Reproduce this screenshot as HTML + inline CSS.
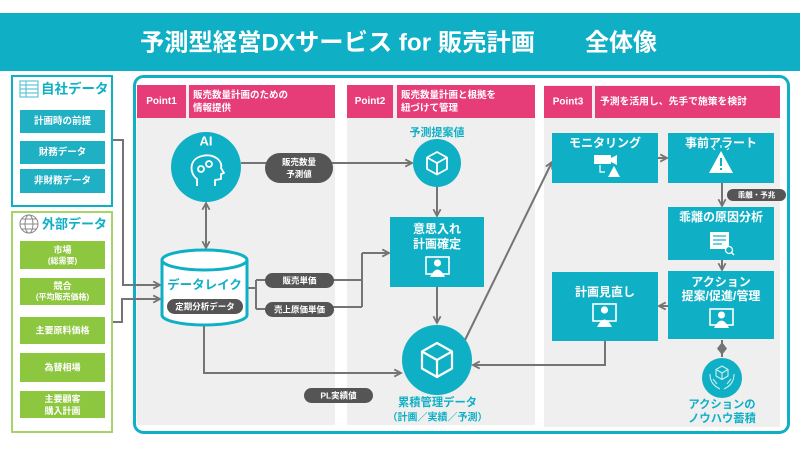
<!DOCTYPE html>
<html><head><meta charset="utf-8"><style>
html,body{margin:0;padding:0;background:#fff;}
svg{display:block;}
text{font-family:"Liberation Sans","Noto Sans CJK JP",sans-serif;font-weight:bold;}
</style></head><body>
<svg width="800" height="450" viewBox="0 0 800 450" xmlns="http://www.w3.org/2000/svg">
<defs>
<marker id="ah" viewBox="0 0 10 10" refX="8.5" refY="5" markerWidth="4.5" markerHeight="4.5" orient="auto-start-reverse">
<path d="M1,1 L8.5,5 L1,9" fill="none" stroke="#747474" stroke-width="2"/>
</marker>
</defs>
<rect x="0" y="0" width="800" height="450" fill="#fff"/>
<!-- Title -->
<rect x="0" y="13" width="800" height="58" fill="#0fb0c5"/>
<text x="140" y="43" font-size="24" fill="#fff" dominant-baseline="central" textLength="395" lengthAdjust="spacingAndGlyphs">予測型経営DXサービス for 販売計画</text>
<text x="585" y="43" font-size="24" fill="#fff" dominant-baseline="central">全体像</text>

<!-- Left panel: 自社データ -->
<rect x="12" y="76" width="100" height="130" fill="#fff" stroke="#0fb0c5" stroke-width="2"/>
<g fill="none" stroke="#5fc6d6" stroke-width="1.2">
<rect x="20" y="81" width="18" height="16"/>
<line x1="20" y1="85" x2="38" y2="85"/><line x1="20" y1="89" x2="38" y2="89"/><line x1="20" y1="93" x2="38" y2="93"/>
<line x1="26" y1="81" x2="26" y2="97"/>
</g>
<text x="41" y="89" font-size="13.5" fill="#0fb0c5" dominant-baseline="central">自社データ</text>
<rect x="20" y="110" width="85" height="23" fill="#1fb0c4"/>
<rect x="20" y="141" width="85" height="23" fill="#1fb0c4"/>
<rect x="20" y="169" width="85" height="24" fill="#1fb0c4"/>
<g font-size="9.5" fill="#fff" text-anchor="middle" dominant-baseline="central">
<text x="62.5" y="121.5">計画時の前提</text>
<text x="62.5" y="152.5">財務データ</text>
<text x="62.5" y="181">非財務データ</text>
</g>

<!-- Left panel: 外部データ -->
<rect x="12" y="212" width="100" height="220" fill="#fff" stroke="#a6d46a" stroke-width="2"/>
<g fill="none" stroke="#8a8a8a" stroke-width="1">
<circle cx="29" cy="224" r="9"/>
<ellipse cx="29" cy="224" rx="4" ry="9"/>
<line x1="20" y1="224" x2="38" y2="224"/>
<line x1="22" y1="219" x2="36" y2="219"/><line x1="22" y1="229" x2="36" y2="229"/>
</g>
<text x="42" y="224" font-size="13" fill="#0fb0c5" dominant-baseline="central">外部データ</text>
<g fill="#8dc63f">
<rect x="20" y="241" width="85" height="28"/>
<rect x="20" y="278" width="85" height="27"/>
<rect x="20" y="317" width="85" height="27"/>
<rect x="20" y="353" width="85" height="29"/>
<rect x="20" y="391" width="85" height="27"/>
</g>
<g font-size="9" fill="#fff" text-anchor="middle" dominant-baseline="central">
<text x="62.5" y="250">市場</text>
<text x="62.5" y="261" font-size="8">(総需要)</text>
<text x="62.5" y="286">競合</text>
<text x="62.5" y="297" font-size="8">(平均販売価格)</text>
<text x="62.5" y="330.5">主要原料価格</text>
<text x="62.5" y="367.5">為替相場</text>
<text x="62.5" y="399">主要顧客</text>
<text x="62.5" y="411">購入計画</text>
</g>

<!-- Main panel -->
<rect x="134.5" y="76.5" width="654" height="356" rx="9" ry="9" fill="#fff" stroke="#0fb0c5" stroke-width="3"/>
<rect x="137" y="85" width="198" height="340" fill="#efefef"/>
<rect x="347" y="85" width="188" height="340" fill="#efefef"/>
<rect x="544" y="85" width="236" height="342" fill="#efefef"/>

<!-- headers -->
<g fill="#e63d78">
<rect x="137" y="85" width="49" height="33"/>
<rect x="189" y="85" width="146" height="33"/>
<rect x="347" y="85" width="46" height="33"/>
<rect x="397" y="85" width="138" height="33"/>
<rect x="544" y="86" width="48" height="32"/>
<rect x="595" y="86" width="185" height="32"/>
</g>
<g fill="#fff" dominant-baseline="central">
<text x="161.5" y="101.5" font-size="10" text-anchor="middle">Point1</text>
<text x="370" y="101.5" font-size="10" text-anchor="middle">Point2</text>
<text x="568" y="102" font-size="10" text-anchor="middle">Point3</text>
<text x="193" y="95.5" font-size="9.5">販売数量計画のための</text>
<text x="193" y="108.5" font-size="9.5">情報提供</text>
<text x="401" y="95.5" font-size="9.5">販売数量計画と根拠を</text>
<text x="401" y="108.5" font-size="9.5">紐づけて管理</text>
<text x="600" y="102" font-size="9.8">予測を活用し、先手で施策を検討</text>
</g>

<!-- connectors -->
<g fill="none" stroke="#747474" stroke-width="2">
<path d="M113,140 H123 V285 H160" marker-end="url(#ah)"/>
<path d="M113,322 H122 V299 H160" marker-end="url(#ah)"/>
<path d="M206,203 V248" marker-start="url(#ah)" marker-end="url(#ah)"/>
<path d="M241,163 H412" marker-end="url(#ah)"/>
<path d="M247,288 H256 M256,280 V309 M256,280 H266 M256,309 H266"/>
<path d="M333,280 H362 M333,307 H362 M362,253 V307"/>
<path d="M362,253 H389" marker-end="url(#ah)"/>
<path d="M204,325 V373 H401" marker-end="url(#ah)"/>
<path d="M437,187 V216" marker-end="url(#ah)"/>
<path d="M437,287 V323" marker-end="url(#ah)"/>
<path d="M465,340 L552,162" marker-end="url(#ah)"/>
<path d="M605,341 V365 H473" marker-end="url(#ah)"/>
<path d="M658,158 H667" marker-end="url(#ah)"/>
<path d="M722,183 V206" marker-end="url(#ah)"/>
<path d="M722,260 V270" marker-end="url(#ah)"/>
<path d="M668,306 H659" marker-end="url(#ah)"/>
<path d="M722,340 V357"/>
</g>
<path d="M722,342 L727,348.5 L722,355 L717,348.5 Z" fill="#747474"/>

<!-- AI circle -->
<circle cx="206" cy="167" r="35" fill="#0fb0c5"/>
<text x="206" y="141" font-size="13" fill="#fff" text-anchor="middle" dominant-baseline="central">AI</text>
<g fill="none" stroke="#fff" stroke-width="1.8" stroke-linejoin="round">
<path d="M197,186 L197,179 C189,173 189,159 202,156 C214,153 223,161 221,168 L224,173 L221,174 L221,179 L215,180 L215,186"/>
<circle cx="201" cy="169" r="3"/>
<circle cx="209" cy="164" r="3"/>
</g>

<!-- pills -->
<g fill="#555">
<rect x="265" y="153" width="68" height="30" rx="15"/>
<rect x="265" y="273" width="69" height="15" rx="7.5"/>
<rect x="265" y="302" width="69" height="15" rx="7.5"/>
<rect x="304" y="388" width="69" height="15" rx="7.5"/>
<rect x="727" y="189" width="59" height="12" rx="6"/>
</g>
<g fill="#fff" text-anchor="middle" dominant-baseline="central">
<text x="299" y="162" font-size="8.5">販売数量</text>
<text x="299" y="174" font-size="8.5">予測値</text>
<text x="299.5" y="280.5" font-size="8.5">販売単価</text>
<text x="299.5" y="309.5" font-size="8.5">売上原価単価</text>
<text x="338.5" y="395.5" font-size="8.5">PL実績値</text>
<text x="756.5" y="195" font-size="7.5">乖離・予兆</text>
</g>

<!-- data lake -->
<path d="M162,260 V315 A42.5,10 0 0 0 247,315 V260" fill="#fff" stroke="#0fb0c5" stroke-width="3"/>
<ellipse cx="204.5" cy="260" rx="42.5" ry="10" fill="#fff" stroke="#0fb0c5" stroke-width="3"/>
<text x="204.5" y="285" font-size="12.5" fill="#0fb0c5" text-anchor="middle" dominant-baseline="central">データレイク</text>
<rect x="167" y="299" width="76" height="15" rx="7.5" fill="#555"/>
<text x="205" y="306.5" font-size="8.5" fill="#fff" text-anchor="middle" dominant-baseline="central">定期分析データ</text>

<!-- Col2 -->
<text x="437" y="133" font-size="11" fill="#0fb0c5" text-anchor="middle" dominant-baseline="central">予測提案値</text>
<circle cx="437" cy="163" r="24" fill="#0fb0c5"/>
<g fill="none" stroke="#fff" stroke-width="1.8" stroke-linejoin="round">
<path d="M437,152 L447,157.5 L447,169 L437,174.5 L427,169 L427,157.5 Z M427,157.5 L437,163 L447,157.5 M437,163 V174.5"/>
</g>
<rect x="390" y="217" width="94" height="70" fill="#0fb0c5"/>
<g fill="#fff" text-anchor="middle" dominant-baseline="central" font-size="12">
<text x="437" y="229">意思入れ</text>
<text x="437" y="244">計画確定</text>
</g>
<g>
<rect x="426" y="257" width="23" height="17" fill="none" stroke="#fff" stroke-width="1.6"/>
<circle cx="437.5" cy="263" r="3.6" fill="#fff"/>
<path d="M430,277 Q437.5,262 445,277 Z" fill="#fff"/>
</g>
<circle cx="437" cy="360" r="35" fill="#0fb0c5"/>
<g fill="none" stroke="#fff" stroke-width="2.2" stroke-linejoin="round">
<path d="M437,343 L452,351.5 L452,368.5 L437,377 L422,368.5 L422,351.5 Z M422,351.5 L437,360 L452,351.5 M437,360 V377"/>
</g>
<g fill="#0fb0c5" text-anchor="middle" dominant-baseline="central">
<text x="437.5" y="403" font-size="11.3">累積管理データ</text>
<text x="437.5" y="418" font-size="10">（計画／実績／予測）</text>
</g>

<!-- Col3 boxes -->
<g fill="#0fb0c5">
<rect x="552" y="133" width="106" height="50"/>
<rect x="668" y="133" width="106" height="50"/>
<rect x="668" y="207" width="106" height="53"/>
<rect x="668" y="271" width="106" height="68"/>
<rect x="552" y="272" width="106" height="69"/>
</g>
<g fill="#fff" text-anchor="middle" dominant-baseline="central" font-size="12">
<text x="605" y="143">モニタリング</text>
<text x="721" y="143">事前アラート</text>
<text x="721" y="217">乖離の原因分析</text>
<text x="721" y="282">アクション</text>
<text x="721" y="296">提案/促進/管理</text>
<text x="605" y="292">計画見直し</text>
</g>
<!-- monitoring icon -->
<g fill="#fff">
<rect x="594" y="155" width="17" height="9"/>
<path d="M611,158 L617,155 L617,165 L611,162 Z"/>
<path d="M614,166 L620,177 L608,177 Z"/>
</g>
<path d="M600,165 V172 H605" fill="none" stroke="#fff" stroke-width="1.2"/>
<!-- alert icon -->
<path d="M721,151 L733,173 L709,173 Z" fill="#fff"/>
<rect x="720" y="158" width="2" height="8" fill="#0fb0c5"/>
<rect x="720" y="168" width="2" height="2" fill="#0fb0c5"/>
<g stroke="#fff" stroke-width="1">
<line x1="721" y1="145" x2="721" y2="148"/>
<line x1="713" y1="148" x2="715" y2="150"/>
<line x1="729" y1="148" x2="727" y2="150"/>
</g>
<!-- doc icon -->
<rect x="710" y="232" width="19" height="17" fill="#fff"/>
<g stroke="#0fb0c5" stroke-width="1.2">
<line x1="713" y1="236" x2="726" y2="236"/><line x1="713" y1="240" x2="726" y2="240"/><line x1="713" y1="244" x2="722" y2="244"/>
</g>
<circle cx="729" cy="250" r="3.5" fill="#0fb0c5" stroke="#fff" stroke-width="1.3"/>
<line x1="731.5" y1="252.5" x2="734" y2="255" stroke="#fff" stroke-width="1.5"/>
<!-- person icons -->
<g>
<rect x="710" y="309" width="23" height="16" fill="none" stroke="#fff" stroke-width="1.6"/>
<circle cx="721.5" cy="315" r="3.5" fill="#fff"/>
<path d="M714,328 Q721.5,313 729,328 Z" fill="#fff"/>
<rect x="593" y="304" width="23" height="17" fill="none" stroke="#fff" stroke-width="1.6"/>
<circle cx="604.5" cy="310" r="3.6" fill="#fff"/>
<path d="M597,327 Q604.5,312 612,327 Z" fill="#fff"/>
</g>
<!-- knowhow -->
<circle cx="722" cy="378" r="20" fill="#0fb0c5"/>
<g fill="none" stroke="#cdeef3" stroke-width="1.1" stroke-linejoin="round">
<path d="M722,366 L728,369.5 L728,376 L722,379.5 L716,376 L716,369.5 Z M716,369.5 L722,373 L728,369.5 M722,373 V379.5"/>
<path d="M710,374 C710,382 714,386 720,389 M734,374 C734,382 730,386 724,389"/>
<path d="M713,379 L717,384 M731,379 L727,384"/>
</g>
<g fill="#0fb0c5" text-anchor="middle" dominant-baseline="central" font-size="11.3">
<text x="722" y="405">アクションの</text>
<text x="722" y="419">ノウハウ蓄積</text>
</g>
</svg>
</body></html>
